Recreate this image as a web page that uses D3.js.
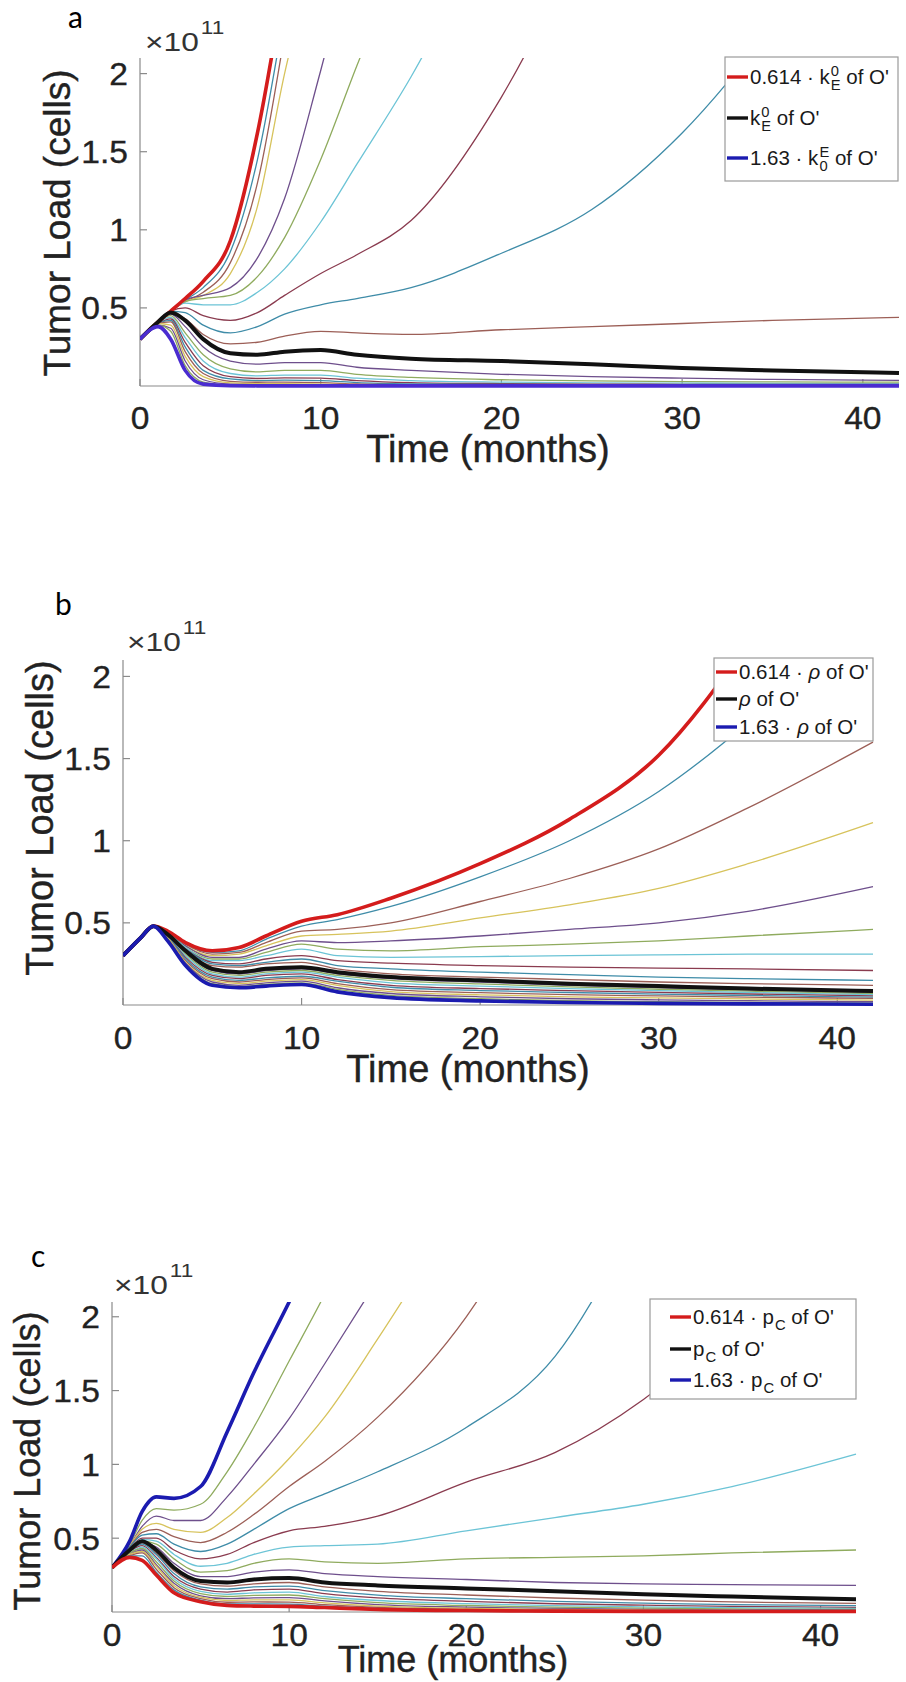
<!DOCTYPE html>
<html><head><meta charset="utf-8">
<script src="https://cdn.jsdelivr.net/npm/d3@7"></script>
<style>body{margin:0;background:#fff} svg{display:block} text{white-space:pre}</style>
</head><body>
<svg id="fig" width="906" height="1682"></svg>
<script>
// ---------------- DATA ----------------
const timeMonths = [0, 1, 1.7, 2.5, 3.5, 5, 6.5, 8, 10, 12, 15, 20, 25, 30, 35, 42];
const xTicks = [0, 10, 20, 30, 40];
const xTickLabels = ["0", "10", "20", "30", "40"];
const yTicks = [0.5, 1, 1.5, 2];
const yTickLabels = ["0.5", "1", "1.5", "2"];
const xDomain = [0, 42];
const yDomain = [0, 2.1];
const axisTitleX = "Time (months)";
const axisTitleY = "Tumor Load (cells)";
const panelLetters = ["a", "b", "c"];

// Panel a: tumor load (x1e11) for k_E^0 scaled 0.614 ... 1.63
const panelA_values = [
  [0.3,0.41,0.48,0.56,0.67,0.93,1.62,2.6],
  [0.3,0.41,0.48,0.55,0.63,0.86,1.45,2.4],
  [0.3,0.41,0.48,0.54,0.60,0.79,1.30,2.25],
  [0.3,0.41,0.48,0.54,0.58,0.72,1.15,2.0,2.9],
  [0.3,0.41,0.48,0.55,0.58,0.63,0.82,1.2,2.02,2.9],
  [0.3,0.41,0.48,0.54,0.56,0.58,0.70,0.95,1.45,2.05,2.9],
  [0.3,0.41,0.48,0.53,0.52,0.52,0.60,0.75,1.05,1.42,1.98,3.1],
  [0.3,0.41,0.48,0.50,0.45,0.42,0.47,0.58,0.72,0.84,1.06,1.85,3.0],
  [0.3,0.41,0.48,0.47,0.39,0.34,0.38,0.46,0.52,0.56,0.63,0.85,1.13,1.62,2.3],
  [0.3,0.41,0.47,0.43,0.33,0.27,0.28,0.32,0.35,0.34,0.33,0.36,0.38,0.40,0.42,0.44],
  [0.3,0.41,0.47,0.42,0.30,0.21,0.20,0.22,0.23,0.20,0.175,0.16,0.14,0.115,0.10,0.083],
  [0.3,0.41,0.46,0.38,0.25,0.16,0.14,0.15,0.15,0.12,0.10,0.075,0.06,0.05,0.042,0.036],
  [0.3,0.41,0.45,0.34,0.20,0.11,0.09,0.10,0.10,0.075,0.055,0.04,0.033,0.028,0.026,0.025],
  [0.3,0.41,0.44,0.31,0.16,0.08,0.065,0.07,0.07,0.05,0.035,0.025,0.02,0.018,0.016,0.015],
  [0.3,0.40,0.43,0.28,0.13,0.06,0.048,0.052,0.05,0.035,0.022,0.015,0.012,0.011,0.01,0.01],
  [0.3,0.40,0.42,0.25,0.10,0.045,0.035,0.037,0.035,0.022,0.014,0.01,0.008,0.007,0.006,0.006],
  [0.3,0.40,0.41,0.22,0.08,0.03,0.024,0.025,0.022,0.013,0.008,0.006,0.005,0.004,0.004,0.004],
  [0.3,0.40,0.39,0.19,0.06,0.02,0.015,0.015,0.012,0.008,0.005,0.004,0.003,0.003,0.003,0.003],
  [0.3,0.39,0.37,0.16,0.04,0.012,0.009,0.008,0.007,0.005,0.003,0.002,0.002,0.002,0.002,0.002],
  [0.3,0.39,0.35,0.13,0.025,0.006,0.004,0.004,0.003,0.002,0.002,0.001,0.001,0.001,0.001,0.001],
  [0.3,0.38,0.30,0.10,0.012,0.002,0.001,0.001,0.001,0.001,0.001,0.001,0.001,0.001,0.001,0.001]
];
const panelA_colors = ["red","blue","orange","yellow","purple","green","lightblue","darkred","blue","orange",
  "black","purple","green","lightblue","darkred","blue","orange","yellow","purple","green","blueThickA"];

// Panel b: rho scaled 0.614 ... 1.63
const panelB_values = [
  [0.3,0.41,0.48,0.45,0.38,0.33,0.35,0.42,0.51,0.55,0.65,0.86,1.13,1.52,2.2],
  [0.3,0.41,0.48,0.45,0.37,0.32,0.33,0.40,0.48,0.52,0.60,0.78,1.0,1.3,1.72,2.45],
  [0.3,0.41,0.48,0.45,0.37,0.31,0.32,0.38,0.45,0.46,0.50,0.63,0.77,0.95,1.2,1.6],
  [0.3,0.41,0.48,0.44,0.36,0.30,0.31,0.36,0.42,0.43,0.45,0.53,0.61,0.71,0.86,1.11],
  [0.3,0.41,0.48,0.44,0.36,0.29,0.29,0.34,0.39,0.38,0.39,0.42,0.46,0.50,0.57,0.72],
  [0.3,0.41,0.48,0.44,0.35,0.28,0.28,0.32,0.37,0.34,0.33,0.355,0.37,0.39,0.42,0.46],
  [0.3,0.41,0.48,0.44,0.35,0.27,0.27,0.30,0.34,0.30,0.29,0.295,0.30,0.305,0.31,0.31],
  [0.3,0.41,0.48,0.43,0.34,0.26,0.25,0.28,0.30,0.27,0.255,0.24,0.23,0.225,0.22,0.21],
  [0.3,0.41,0.48,0.43,0.34,0.25,0.24,0.26,0.28,0.24,0.22,0.20,0.185,0.17,0.16,0.15],
  [0.3,0.41,0.48,0.43,0.33,0.24,0.23,0.25,0.26,0.22,0.19,0.17,0.155,0.14,0.13,0.12],
  [0.3,0.41,0.48,0.43,0.33,0.22,0.20,0.22,0.23,0.20,0.17,0.15,0.13,0.115,0.10,0.085],
  [0.3,0.41,0.48,0.43,0.32,0.21,0.19,0.21,0.22,0.19,0.16,0.14,0.12,0.105,0.092,0.078],
  [0.3,0.41,0.48,0.43,0.31,0.20,0.18,0.20,0.21,0.18,0.15,0.128,0.11,0.096,0.084,0.07],
  [0.3,0.41,0.48,0.42,0.30,0.19,0.17,0.19,0.20,0.17,0.135,0.115,0.10,0.087,0.076,0.063],
  [0.3,0.41,0.48,0.42,0.29,0.18,0.16,0.18,0.19,0.155,0.12,0.10,0.088,0.077,0.067,0.056],
  [0.3,0.41,0.48,0.42,0.28,0.17,0.15,0.165,0.175,0.145,0.108,0.088,0.076,0.066,0.058,0.048],
  [0.3,0.41,0.48,0.41,0.27,0.16,0.14,0.155,0.165,0.13,0.094,0.075,0.063,0.055,0.048,0.04],
  [0.3,0.41,0.48,0.41,0.26,0.15,0.13,0.145,0.155,0.12,0.082,0.062,0.05,0.043,0.037,0.03],
  [0.3,0.41,0.48,0.40,0.255,0.14,0.12,0.135,0.145,0.105,0.07,0.05,0.038,0.031,0.026,0.02],
  [0.3,0.41,0.48,0.40,0.25,0.13,0.112,0.125,0.135,0.095,0.058,0.038,0.026,0.02,0.016,0.012],
  [0.3,0.41,0.48,0.39,0.24,0.12,0.105,0.115,0.125,0.08,0.045,0.025,0.015,0.01,0.007,0.005]
];
const panelB_colors = ["red","blue","orange","yellow","purple","green","lightblue","darkred","blue","orange",
  "black","purple","green","lightblue","darkred","blue","orange","yellow","purple","green","blueThick"];

// Panel c: p_C scaled 1.63 (top) ... 0.614 (bottom)
const panelC_values = [
  [0.3,0.48,0.68,0.78,0.77,0.85,1.22,1.62,2.1,2.6],
  [0.3,0.46,0.62,0.70,0.69,0.73,0.95,1.25,1.7,2.15,2.9],
  [0.3,0.45,0.58,0.65,0.62,0.62,0.78,1.0,1.31,1.68,2.25],
  [0.3,0.45,0.56,0.60,0.56,0.54,0.64,0.80,1.04,1.32,1.85,2.8],
  [0.3,0.44,0.54,0.56,0.51,0.47,0.54,0.66,0.85,1.02,1.32,2.0,3.0],
  [0.3,0.44,0.52,0.53,0.46,0.41,0.46,0.56,0.70,0.80,0.95,1.25,1.73,2.75],
  [0.3,0.43,0.50,0.50,0.42,0.36,0.39,0.47,0.55,0.58,0.65,0.88,1.08,1.44,1.95,2.8],
  [0.3,0.43,0.49,0.48,0.39,0.31,0.33,0.39,0.44,0.45,0.46,0.55,0.64,0.73,0.85,1.07],
  [0.3,0.42,0.48,0.46,0.36,0.27,0.28,0.33,0.36,0.34,0.33,0.36,0.37,0.38,0.40,0.42],
  [0.3,0.42,0.47,0.44,0.33,0.24,0.24,0.27,0.285,0.26,0.24,0.22,0.20,0.19,0.185,0.18],
  [0.3,0.42,0.48,0.42,0.30,0.21,0.20,0.22,0.23,0.20,0.18,0.16,0.14,0.12,0.105,0.087],
  [0.3,0.42,0.47,0.40,0.28,0.19,0.175,0.19,0.20,0.17,0.14,0.115,0.095,0.08,0.068,0.058],
  [0.3,0.41,0.46,0.39,0.26,0.17,0.155,0.17,0.175,0.145,0.115,0.09,0.072,0.06,0.05,0.043],
  [0.3,0.41,0.45,0.37,0.24,0.155,0.135,0.15,0.155,0.125,0.095,0.072,0.056,0.046,0.038,0.032],
  [0.3,0.40,0.44,0.36,0.225,0.14,0.12,0.13,0.135,0.105,0.078,0.057,0.043,0.035,0.029,0.024],
  [0.3,0.40,0.43,0.34,0.21,0.125,0.105,0.112,0.115,0.09,0.063,0.044,0.033,0.026,0.021,0.017],
  [0.3,0.39,0.42,0.32,0.195,0.11,0.09,0.096,0.098,0.075,0.05,0.033,0.024,0.018,0.015,0.012],
  [0.3,0.39,0.41,0.31,0.18,0.10,0.078,0.082,0.082,0.062,0.04,0.025,0.017,0.013,0.01,0.008],
  [0.3,0.38,0.40,0.29,0.165,0.09,0.066,0.068,0.067,0.05,0.031,0.018,0.012,0.009,0.007,0.006],
  [0.3,0.38,0.38,0.27,0.15,0.08,0.055,0.055,0.053,0.04,0.024,0.013,0.008,0.006,0.005,0.004],
  [0.3,0.37,0.35,0.25,0.13,0.07,0.045,0.04,0.038,0.03,0.018,0.01,0.006,0.004,0.003,0.003]
];
const panelC_colors = ["blueThick","green","purple","yellow","orange","blue","darkred","lightblue","green","purple",
  "black","orange","blue","darkred","lightblue","green","purple","yellow","orange","blue","red"];

const legendA = [
  {key:"red",   segs:[{t:"0.614 \u00B7 k"},{sup:"0",sub:"E"},{t:"\u00A0of O'"}]},
  {key:"black", segs:[{t:"k"},{sup:"0",sub:"E"},{t:"\u00A0of O'"}]},
  {key:"blueThick", segs:[{t:"1.63 \u00B7 k"},{sup:"E",sub:"0"},{t:"\u00A0of O'"}]}
];
const legendB = [
  {key:"red",   segs:[{t:"0.614 \u00B7\u00A0"},{t:"\u03C1",it:true},{t:"\u00A0of O'"}]},
  {key:"black", segs:[{t:"\u03C1",it:true},{t:"\u00A0of O'"}]},
  {key:"blueThick", segs:[{t:"1.63 \u00B7\u00A0"},{t:"\u03C1",it:true},{t:"\u00A0of O'"}]}
];
const legendC = [
  {key:"red",   segs:[{t:"0.614 \u00B7 p"},{sub:"C"},{t:"\u00A0of O'"}]},
  {key:"black", segs:[{t:"p"},{sub:"C"},{t:"\u00A0of O'"}]},
  {key:"blueThick", segs:[{t:"1.63 \u00B7 p"},{sub:"C"},{t:"\u00A0of O'"}]}
];

// ---------------- STYLE ----------------
const palette = {
  blue:"#3f8ca8", orange:"#9c5f57", yellow:"#d7c35c", purple:"#6e4f8c",
  green:"#8fab5e", lightblue:"#6cc4d6", darkred:"#8a3b4f",
  red:"#d41c1c", black:"#111111", blueThick:"#1b1bb0", blueThickA:"#4a2cd0"
};
const thickKeys = new Set(["red","black","blueThick","blueThickA"]);
const FONT = "'Liberation Sans', Arial, Helvetica, sans-serif";
const TXT = "#222";

const panels = [
  {values:panelA_values, colors:panelA_colors, legend:legendA,
   plot:{x0:140,x1:899,y0:58,y1:386}, letter:{x:68,y:28}, exp:{x:145,y:51},
   xtitle:{x:488,y:462,fs:38}, ytitle:{x:70,y:223,fs:37}, xtickY:429,
   lg:{x:725,y:57,w:173,h:124,rows:[77,118,158],l0:727,l1:748,tx:750}},
  {values:panelB_values, colors:panelB_colors, legend:legendB,
   plot:{x0:123,x1:873,y0:660,y1:1005}, letter:{x:55,y:615}, exp:{x:127,y:651},
   xtitle:{x:468,y:1082,fs:38}, ytitle:{x:53,y:818,fs:38}, xtickY:1049,
   lg:{x:714,y:658,w:159,h:83,rows:[672,699,727],l0:716,l1:737,tx:739}},
  {values:panelC_values, colors:panelC_colors, legend:legendC,
   plot:{x0:112,x1:856,y0:1302,y1:1612}, letter:{x:31,y:1267}, exp:{x:114,y:1294},
   xtitle:{x:453,y:1672,fs:36}, ytitle:{x:40,y:1461,fs:36}, xtickY:1646,
   lg:{x:650,y:1299,w:206,h:100,rows:[1317,1349,1380],l0:670,l1:691,tx:693}}
];

const svg = d3.select("#fig");
const defs = svg.append("defs");

function richText(g, x, y, segs, fs) {
  let cx = x;
  segs.forEach(s => {
    if (s.t !== undefined) {
      const t = g.append("text").attr("x", cx).attr("y", y)
        .attr("font-family", FONT).attr("font-size", fs).attr("fill", "#1a1a1a")
        .attr("font-style", s.it ? "italic" : "normal").text(s.t);
      cx += t.node().getComputedTextLength();
    } else {
      let w = 0;
      if (s.sup !== undefined) {
        const t = g.append("text").attr("x", cx + 1).attr("y", y - 8)
          .attr("font-family", FONT).attr("font-size", fs * 0.72).attr("fill", "#1a1a1a").text(s.sup);
        w = Math.max(w, t.node().getComputedTextLength() + 1);
      }
      if (s.sub !== undefined) {
        const t = g.append("text").attr("x", cx + 1).attr("y", y + 6)
          .attr("font-family", FONT).attr("font-size", fs * 0.72).attr("fill", "#1a1a1a").text(s.sub);
        w = Math.max(w, t.node().getComputedTextLength() + 1);
      }
      cx += w;
    }
  });
}

panels.forEach((p, pi) => {
  const P = p.plot;
  const x = d3.scaleLinear().domain(xDomain).range([P.x0, P.x1]);
  const y = d3.scaleLinear().domain(yDomain).range([P.y1, P.y0]);
  const g = svg.append("g");

  const cid = "clip" + pi;
  defs.append("clipPath").attr("id", cid).append("rect")
    .attr("x", P.x0).attr("y", P.y0).attr("width", P.x1 - P.x0 + 2).attr("height", P.y1 - P.y0 + 4);

  // axes (left & bottom), ticks inside
  const axG = g.append("g");
  axG.append("line").attr("x1", P.x0).attr("x2", P.x0).attr("y1", P.y0).attr("y2", P.y1)
    .attr("stroke", "#8a8a8a").attr("stroke-width", 1.2);
  axG.append("line").attr("x1", P.x0).attr("x2", P.x1).attr("y1", P.y1).attr("y2", P.y1)
    .attr("stroke", "#8a8a8a").attr("stroke-width", 1.2);
  yTicks.forEach((v, i) => {
    axG.append("line").attr("x1", P.x0).attr("x2", P.x0 + 7).attr("y1", y(v)).attr("y2", y(v))
      .attr("stroke", "#8a8a8a").attr("stroke-width", 1.2);
    axG.append("text").attr("transform", `translate(${P.x0 - 12},${y(v) + 11.5}) scale(1.05,1)`)
      .attr("text-anchor", "end").attr("font-family", FONT).attr("font-size", 32).attr("fill", TXT)
      .attr("stroke", TXT).attr("stroke-width", 0.35)
      .text(yTickLabels[i]);
  });
  xTicks.forEach((v, i) => {
    axG.append("line").attr("x1", x(v)).attr("x2", x(v)).attr("y1", P.y1).attr("y2", P.y1 - 7)
      .attr("stroke", "#8a8a8a").attr("stroke-width", 1.2);
    axG.append("text").attr("transform", `translate(${x(v)},${p.xtickY}) scale(1.05,1)`)
      .attr("text-anchor", "middle").attr("font-family", FONT).attr("font-size", 32).attr("fill", TXT)
      .attr("stroke", TXT).attr("stroke-width", 0.35)
      .text(xTickLabels[i]);
  });

  // lines
  const line = d3.line().x((d) => x(d[0])).y((d) => y(d[1])).curve(d3.curveMonotoneX);
  const lg = g.append("g").attr("clip-path", "url(#" + cid + ")");
  const order = p.values.map((v, i) => i);
  const thin = order.filter(i => !thickKeys.has(p.colors[i]));
  const thick = order.filter(i => thickKeys.has(p.colors[i]));
  thin.concat(thick).forEach(i => {
    const pts = p.values[i].map((v, j) => [timeMonths[j], v]);
    const key = p.colors[i];
    lg.append("path").attr("d", line(pts)).attr("fill", "none")
      .attr("stroke", palette[key])
      .attr("stroke-width", key === "black" ? 4 : (thickKeys.has(key) ? 3.6 : 1.3))
      .attr("stroke-linejoin", "round");
  });

  // exponent label
  const e = g.append("text").attr("transform", `translate(${p.exp.x},${p.exp.y}) scale(1.22,1)`)
    .attr("font-family", FONT).attr("font-size", 26).attr("fill", "#333").text("\u00D710");
  const ew = e.node().getComputedTextLength() * 1.22;
  g.append("text").attr("transform", `translate(${p.exp.x + ew + 2},${p.exp.y - 17}) scale(1.22,1)`)
    .attr("font-family", FONT).attr("font-size", 18.5).attr("fill", "#333").text("11");

  // axis titles
  g.append("text").attr("x", p.xtitle.x).attr("y", p.xtitle.y).attr("text-anchor", "middle")
    .attr("font-family", FONT).attr("font-size", p.xtitle.fs).attr("fill", TXT)
    .attr("stroke", TXT).attr("stroke-width", 0.4).text(axisTitleX);
  g.append("text").attr("transform", `translate(${p.ytitle.x},${p.ytitle.y}) rotate(-90)`)
    .attr("text-anchor", "middle").attr("font-family", FONT).attr("font-size", p.ytitle.fs).attr("fill", TXT)
    .attr("stroke", TXT).attr("stroke-width", 0.4).text(axisTitleY);

  // panel letter
  g.append("text").attr("x", p.letter.x).attr("y", p.letter.y)
    .attr("font-family", "Lato, 'Open Sans', sans-serif").attr("font-size", 30).attr("fill", "#000")
    .text(panelLetters[pi]);

  // legend
  const L = p.lg;
  const leg = g.append("g");
  leg.append("rect").attr("x", L.x).attr("y", L.y).attr("width", L.w).attr("height", L.h)
    .attr("fill", "#fff").attr("stroke", "#9a9a9a").attr("stroke-width", 1.2);
  p.legend.forEach((item, k) => {
    const ry = L.rows[k];
    leg.append("line").attr("x1", L.l0).attr("x2", L.l1).attr("y1", ry).attr("y2", ry)
      .attr("stroke", palette[item.key]).attr("stroke-width", 3.4);
    richText(leg, L.tx, ry + 7, item.segs, 20.5);
  });
});
</script>
</body></html>
